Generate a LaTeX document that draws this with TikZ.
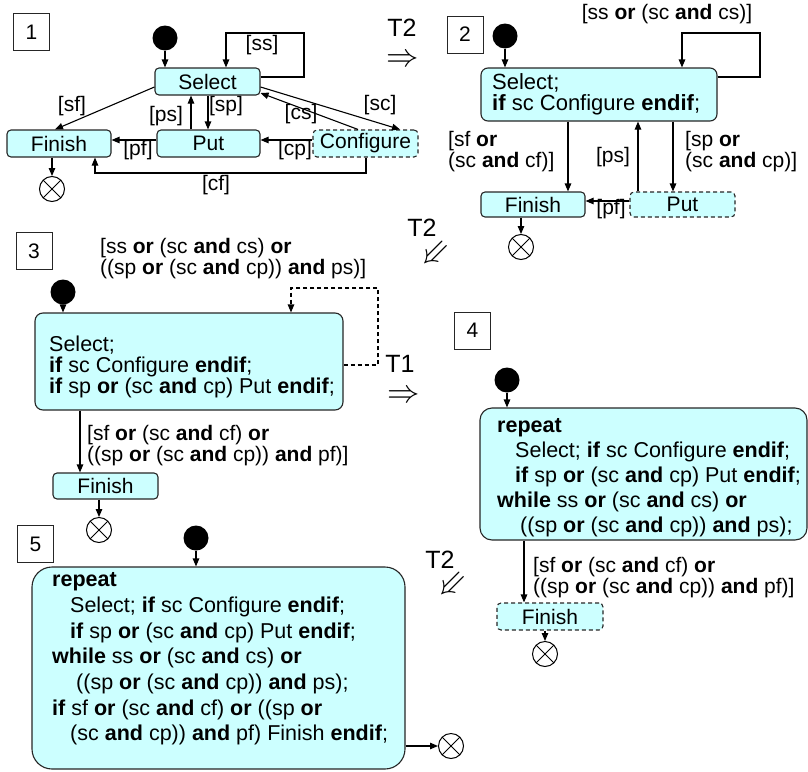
\documentclass[tikz,border=0pt]{standalone}
\usepackage{fontspec}
\usepackage{graphicx}
\setmainfont{Liberation Sans}
\usetikzlibrary{arrows.meta}
\definecolor{stfill}{HTML}{CCFFFF}

\begin{document}
\begin{tikzpicture}[x=1pt,y=-1pt,
    every node/.style={font=\fontsize{21}{24}\selectfont},
    state/.style={draw=black!85,fill=stfill,rounded corners=4pt,line width=1.1pt,inner sep=0pt},
    dashstate/.style={state,dash pattern=on 4pt off 3pt},
    numbox/.style={draw=black!85,line width=0.9pt,minimum width=36pt,minimum height=37pt,inner sep=0pt},
    initdot/.style={circle,fill=black,minimum size=25pt,inner sep=0pt},
    finalx/.style={circle,draw,line width=1pt,minimum size=25pt,inner sep=0pt,
        path picture={\draw[line width=1pt] (path picture bounding box.north west) -- (path picture bounding box.south east)
            (path picture bounding box.north east) -- (path picture bounding box.south west);}},
    flow/.style={-{Triangle[length=8pt,width=6.5pt]},line width=1.1pt},
    guard/.style={align=left,inner sep=0pt,font=\fontsize{21}{21}\selectfont},
    code/.style={align=left,inner sep=0pt,anchor=west},
    trans/.style={inner sep=0pt,font=\fontsize{25}{25}\selectfont},
    arrowsym/.style={inner sep=0pt,font=\fontsize{24}{24}\selectfont}]
    \useasboundingbox (0,0) rectangle (808,771);

    % Step 1: the original activity graph
    \node[numbox] (n1) at (31.5,32) {1};
    \node[initdot] (i1) at (165,38) {};
    \node[state,minimum width=105pt,minimum height=27pt] (sel1) at (207.5,81.5) {Select};
    \node[state,minimum width=104pt,minimum height=27pt] (fin1) at (59,143.5) {Finish};
    \node[state,minimum width=103pt,minimum height=27pt] (put1) at (208.5,143.5) {Put};
    \node[dashstate,minimum width=105pt,minimum height=27pt] (cfg1) at (365.5,143.5) {Configure};
    \node[finalx] (e1) at (52,189) {};

    \draw[flow] (i1) -- (sel1.north -| i1);
    \draw[flow] (sel1.east |- 0,77) -| (304,33) -| (sel1.north -| 226,0);
    \node (lss1) at (262,45) {[ss]};
    \draw[flow] (sel1.west |- 0,87) -- (fin1.north -| 55,0);
    \node (lsf1) at (72,106) {[sf]};
    \draw[flow] (put1.north -| 191,0) -- (sel1.south -| 191,0);
    \node (lps1) at (166,116) {[ps]};
    \draw[flow] (sel1.south -| 208,0) -- (put1.north -| 208,0);
    \node (lsp1) at (226,106) {[sp]};
    \draw[flow] (sel1.east |- 0,87) -- (cfg1.north -| 400,0);
    \node (lsc1) at (380,105) {[sc]};
    \draw[flow] (cfg1.north -| 358,0) -- (sel1.east |- 0,93);
    \node (lcs1) at (301,114) {[cs]};
    \draw[flow] (put1.west |- 0,140) -- (fin1.east |- 0,140);
    \node (lpf1) at (138,150) {[pf]};
    \draw[flow] (cfg1.west |- 0,140) -- (put1.east |- 0,140);
    \node (lcp1) at (295,150) {[cp]};
    \draw[flow] (cfg1.south -| 366,0) -- (366,173) -| (fin1.south -| 95,0);
    \node (lcf1) at (216,185) {[cf]};
    \draw[flow] (fin1.south -| e1) -- (e1);

    % Step 2
    \node[numbox] (n2) at (465,34.5) {2};
    \node[initdot] (i2) at (505,36) {};
    \node[state,rounded corners=7pt,minimum width=236pt,minimum height=53pt] (sel2) at (599,94.5) {};
    \node[code,font=\fontsize{22}{21}\selectfont] (c2) at (492,94) {Select;\\\textbf{if} sc Configure \textbf{endif};};
    \node[state,minimum width=104pt,minimum height=25pt] (fin2) at (533,204.5) {Finish};
    \node[dashstate,minimum width=105pt,minimum height=25pt] (put2) at (682.5,204.5) {Put};
    \node[finalx] (e2) at (521,247) {};

    \draw[flow] (i2) -- (sel2.north -| i2);
    \draw[flow] (sel2.east |- 0,77) -| (760,33) -| (sel2.north -| 682,0);
    \node (lss2) at (667,14) {[ss \textbf{or} (sc \textbf{and} cs)]};
    \draw[flow] (sel2.south -| 568,0) -- (fin2.north -| 568,0);
    \node[guard,anchor=west] (lsf2) at (448,152) {[sf \textbf{or}\\(sc \textbf{and} cf)]};
    \draw[flow] (put2.north -| 638,0) -- (sel2.south -| 638,0);
    \node (lps2) at (613,157) {[ps]};
    \draw[flow] (sel2.south -| 673,0) -- (put2.north -| 673,0);
    \node[guard,anchor=west] (lsp2) at (685,152) {[sp \textbf{or}\\(sc \textbf{and} cp)]};
    \draw[flow] (put2.west |- 0,201) -- (fin2.east |- 0,201);
    \node (lpf2) at (611,209) {[pf]};
    \draw[flow] (fin2.south -| e2) -- (e2);

    % Step 3
    \node[numbox] (n3) at (34,251) {3};
    \node[initdot] (i3) at (63,292) {};
    \node[state,rounded corners=8pt,minimum width=308pt,minimum height=97pt] (sel3) at (189,361.5) {};
    \node[code,font=\fontsize{21.5}{21}\selectfont] (c3) at (49,367) {Select;\\\textbf{if} sc Configure \textbf{endif};\\\textbf{if} sp \textbf{or} (sc \textbf{and} cp) Put \textbf{endif};};
    \node[state,minimum width=105pt,minimum height=26pt] (fin3) at (105.5,486) {Finish};
    \node[finalx] (e3) at (99,530) {};

    \draw[flow] (i3) -- (sel3.north -| i3);
    \draw[flow,dash pattern=on 4pt off 3pt] (sel3.east |- 0,365) -| (378,288) -| (sel3.north -| 291,0);
    \node[guard,anchor=west] (lss3) at (100,259) {[ss \textbf{or} (sc \textbf{and} cs) \textbf{or}\\((sp \textbf{or} (sc \textbf{and} cp)) \textbf{and} ps)]};
    \draw[flow] (sel3.south -| 80,0) -- (fin3.north -| 80,0);
    \node[guard,anchor=west] (lsf3) at (87,446) {[sf \textbf{or} (sc \textbf{and} cf) \textbf{or}\\((sp \textbf{or} (sc \textbf{and} cp)) \textbf{and} pf)]};
    \draw[flow] (fin3.south -| e3) -- (e3);

    % Step 4
    \node[numbox] (n4) at (472.5,330.5) {4};
    \node[initdot] (i4) at (507,380) {};
    \node[state,rounded corners=12pt,minimum width=327pt,minimum height=132pt] (sel4) at (643.5,474) {};
    \node[code,font=\fontsize{21.5}{25}\selectfont] (c4) at (497,478) {\textbf{repeat}\\
        \hspace*{18pt}Select; \textbf{if} sc Configure \textbf{endif};\\
        \hspace*{18pt}\textbf{if} sp \textbf{or} (sc \textbf{and} cp) Put \textbf{endif};\\
        \textbf{while} ss \textbf{or} (sc \textbf{and} cs) \textbf{or}\\
        \hspace*{23pt}((sp \textbf{or} (sc \textbf{and} cp)) \textbf{and} ps);};
    \node[dashstate,minimum width=106pt,minimum height=27pt] (fin4) at (550,616.5) {Finish};
    \node[finalx] (e4) at (545,654) {};

    \draw[flow] (i4) -- (sel4.north -| i4);
    \draw[flow] (sel4.south -| 524,0) -- (fin4.north -| 524,0);
    \node[guard,anchor=west] (lsf4) at (533,578) {[sf \textbf{or} (sc \textbf{and} cf) \textbf{or}\\((sp \textbf{or} (sc \textbf{and} cp)) \textbf{and} pf)]};
    \draw[flow] (fin4.south -| e4) -- (e4);

    % Step 5
    \node[numbox] (n5) at (35.5,544) {5};
    \node[initdot] (i5) at (196,538) {};
    \node[state,rounded corners=20pt,minimum width=373pt,minimum height=202pt] (sel5) at (218.5,668) {};
    \node[code,font=\fontsize{21.5}{25.7}\selectfont] (c5) at (52,659) {\textbf{repeat}\\
        \hspace*{18pt}Select; \textbf{if} sc Configure \textbf{endif};\\
        \hspace*{18pt}\textbf{if} sp \textbf{or} (sc \textbf{and} cp) Put \textbf{endif};\\
        \textbf{while} ss \textbf{or} (sc \textbf{and} cs) \textbf{or}\\
        \hspace*{24pt}((sp \textbf{or} (sc \textbf{and} cp)) \textbf{and} ps);\\
        \textbf{if} sf \textbf{or} (sc \textbf{and} cf) \textbf{or} ((sp \textbf{or}\\
        \hspace*{18pt}(sc \textbf{and} cp)) \textbf{and} pf) Finish \textbf{endif};};
    \node[finalx] (e5) at (451,746) {};

    \draw[flow] (i5) -- (sel5.north -| i5);
    \draw[flow] (sel5.east |- e5) -- (e5);

    % transformation steps
    \node[trans] (t2a) at (402,28) {T2};
    \node[arrowsym] (r2a) at (403,61) {\scalebox{1.3}{$\Rightarrow$}};
    \node[trans] (t2b) at (422,228) {T2};
    \node[arrowsym,rotate=225] (r2b) at (433,252) {\scalebox{1.3}{$\Rightarrow$}};
    \node[trans] (t1) at (400,364) {T1};
    \node[arrowsym] (r1) at (404,397) {\scalebox{1.3}{$\Rightarrow$}};
    \node[trans] (t2c) at (440,560) {T2};
    \node[arrowsym,rotate=225] (r2c) at (450,583) {\scalebox{1.3}{$\Rightarrow$}};

\end{tikzpicture}
\end{document}
